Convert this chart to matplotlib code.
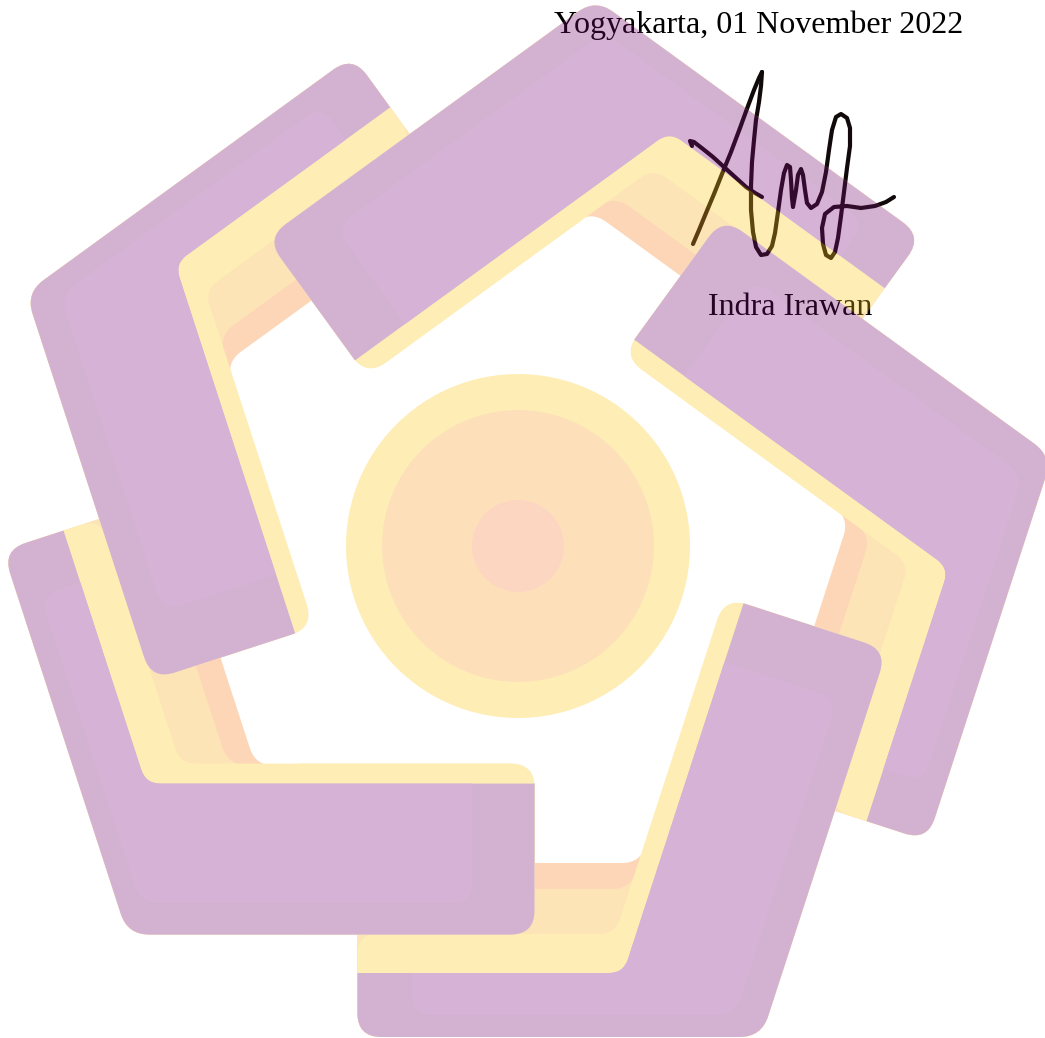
import numpy as np
import matplotlib
matplotlib.use("Agg")
import matplotlib.pyplot as plt
from matplotlib.path import Path
from matplotlib.patches import PathPatch, Circle
from matplotlib.collections import PatchCollection
from matplotlib.colors import to_rgb

# ------------------------------------------------------------------ text
place_date = "Yogyakarta, 01 November 2022"
signer_name = "Indra Irawan"

# ------------------------------------------------------------ signature
sig_a_x = [693, 699, 706, 714, 722, 731, 740, 748, 754, 759, 762]
sig_a_y = [244, 230, 213, 194, 174, 152, 128, 106, 90, 78, 72]
sig_b_x = [762, 761, 759, 756, 754, 752, 751, 751, 753, 756, 761, 767, 772, 775, 778,
           781, 784, 787, 790, 791, 792, 793, 796, 798, 801, 803, 805, 807, 811, 817,
           822, 826, 829, 832, 836, 841, 847, 850, 850, 847, 844, 841, 838, 835, 831,
           826, 823, 822, 825, 834, 847, 861, 875, 886, 894]
sig_b_y = [72, 86, 102, 120, 140, 162, 186, 210, 232, 247, 255, 254, 246, 233, 212,
           190, 173, 165, 167, 180, 198, 207, 190, 175, 169, 175, 190, 203, 208, 204,
           192, 172, 150, 130, 117, 114, 118, 128, 146, 168, 192, 216, 238, 252, 258,
           255, 244, 228, 214, 207, 206, 208, 206, 202, 197]
sig_c_x = [692, 690, 694, 703, 713, 724, 735, 746, 755, 762]
sig_c_y = [146, 141, 142, 149, 157, 167, 177, 187, 193, 197]

# -------------------------------------- watermark colours (as seen on paper)
WATERMARK_ALPHA = 0.32
seen_purple = "#D3B2D1"
seen_purple_hi = "#D6B2D6"
seen_yellow = "#FEEDB5"
seen_light_orange = "#FDE4B6"
seen_peach = "#FDD6B7"
seen_disc_outer = "#FEEDB5"
seen_disc_mid = "#FDE0B9"
seen_disc_core = "#FCD6C1"

# ------------------------------------------------------------ central disc
disc_center = (518, 546)
disc_radii = [172, 136, 46]
disc_colours = [seen_disc_outer, seen_disc_mid, seen_disc_core]

# ------------------------------------------------------------------- arms
arm_angles_deg = [0, 72, 144, 216, 288]
arm_corner_x = [761.4, 1052.2, 595.5, 25.8, 127.5]
arm_corner_y = [1037.0, 456.7, -1.0, 293.0, 934.6]
leg_len_cw = 404
leg_len_ccw = 407
# layers from back to front: peach, light orange, yellow, purple, purple highlight
layer_colours = [seen_peach, seen_light_orange, seen_yellow, seen_purple, seen_purple_hi]
layer_out_cw = [0, 0, 0, 0, 22]
layer_out_ccw = [0, 0, 0, 0, 32]
layer_w_cw = [174, 148, 103, 64, 64]
layer_w_ccw = [169, 170, 171, 151, 151]
layer_end_cw = [leg_len_cw] * 4 + [leg_len_cw - 55]
layer_end_ccw = [leg_len_ccw] * 4 + [leg_len_ccw - 62]
layer_radii = [[30, 24, 16, 25, 24, 24],
               [30, 24, 16, 25, 24, 24],
               [30, 24, 20, 22, 24, 24],
               [30, 24, 0, 20, 0, 24],
               [26, 20, 0, 20, 0, 20]]

# ---------------------------------------------------------------- helpers
c72, s72 = np.cos(np.radians(72)), np.sin(np.radians(72))
A_DIR = np.array([-1.0, 0.0])
A_N = np.array([0.0, -1.0])
B_DIR = np.array([c72, -s72])
B_N = np.array([-s72, -c72])


def full_colour(seen):
    rgb = np.array(to_rgb(seen))
    return tuple(np.clip(1 - (1 - rgb) / WATERMARK_ALPHA, 0, 1))


def meet(n1, c1, n2, c2):
    return np.linalg.solve(np.array([n1, n2]), np.array([c1, c2], float))


def rounded_path(pts, radii):
    pts = [np.asarray(p, float) for p in pts]
    n = len(pts)
    verts, codes = [], []
    for i in range(n):
        V, P, N = pts[i], pts[i - 1], pts[(i + 1) % n]
        u1 = P - V
        l1 = np.hypot(*u1)
        u1 = u1 / l1
        u2 = N - V
        l2 = np.hypot(*u2)
        u2 = u2 / l2
        ang = np.arccos(np.clip(u1 @ u2, -1, 1))
        r = radii[i]
        d = 0.0 if r <= 0 else min(r / np.tan(ang / 2), 0.45 * l1, 0.45 * l2)
        T1, T2 = V + u1 * d, V + u2 * d
        verts.append(T1)
        codes.append(Path.MOVETO if i == 0 else Path.LINETO)
        verts += [V, T2]
        codes += [Path.CURVE3, Path.CURVE3]
    verts.append(verts[0])
    codes.append(Path.CLOSEPOLY)
    return Path(verts, codes)


def to_page(v, k):
    phi = np.radians(arm_angles_deg[k])
    c, s = np.cos(phi), np.sin(phi)
    x, y = v
    return np.array([arm_corner_x[k] + x * c + y * s,
                     arm_corner_y[k] - x * s + y * c])


def arm_patches(k, s_from=None):
    out = []
    for i in range(len(layer_colours)):
        oa, ob = layer_out_cw[i], layer_out_ccw[i]
        wa, wb = layer_w_cw[i], layer_w_ccw[i]
        ea, eb = layer_end_cw[i], layer_end_ccw[i]
        rad = layer_radii[i]
        v5 = meet(B_N, wb, B_DIR, eb)
        v6 = meet(B_N, ob, B_DIR, eb)
        if s_from is None:
            v1 = meet(A_N, oa, B_N, ob)
            v2 = meet(A_N, oa, A_DIR, ea)
            v3 = meet(A_N, wa, A_DIR, ea)
            v4 = meet(A_N, wa, B_N, wb)
            local = [v1, v2, v3, v4, v5, v6]
            r = rad
        else:
            q1 = meet(B_N, ob, B_DIR, s_from)
            q4 = meet(B_N, wb, B_DIR, s_from)
            local = [q1, v6, v5, q4]
            r = [0, rad[5], rad[4], 0]
        path = rounded_path([to_page(v, k) for v in local], r)
        out.append(PathPatch(path, facecolor=full_colour(layer_colours[i]),
                             edgecolor="none", linewidth=0))
    return out


def watermark_filter(img, dpi):
    out = img.copy()
    out[..., 3] *= WATERMARK_ALPHA
    return out, 0, 0


# ------------------------------------------------------------------ figure
W, H = 1045, 1038
fig = plt.figure(figsize=(W / 100, H / 100), dpi=100)
fig.patch.set_facecolor("white")
ax = fig.add_axes([0, 0, 1, 1])
ax.set_xlim(0, W)
ax.set_ylim(H, 0)
ax.axis("off")

serif = ["Liberation Serif", "DejaVu Serif"]
ax.text(554, 33.5, place_date, fontsize=23, family=serif, color="black",
        ha="left", va="baseline", zorder=2)
ax.text(708, 315, signer_name, fontsize=23, family=serif, color="black",
        ha="left", va="baseline", zorder=2)

for xs, ys in [(sig_a_x, sig_a_y), (sig_b_x, sig_b_y), (sig_c_x, sig_c_y)]:
    ax.plot(xs, ys, color="#120a0a", lw=3.0, solid_capstyle="round",
            solid_joinstyle="round", zorder=2)

patches = []
for r, col in zip(disc_radii, disc_colours):
    patches.append(Circle(disc_center, r, facecolor=full_colour(col),
                          edgecolor="none", linewidth=0))
for k in [4, 3, 2, 1, 0]:
    patches += arm_patches(k)
# the bottom-left arm's horizontal leg lies on top of the bottom arm (pinwheel)
redraw_from = np.ceil(arm_corner_x[4] + 170) - arm_corner_x[4]
patches += arm_patches(4, s_from=redraw_from)

logo = PatchCollection(patches, match_original=True, zorder=5)
logo.set_linewidth(0)
logo.set_agg_filter(watermark_filter)
ax.add_collection(logo)

fig.savefig("out.png", dpi=100, facecolor="white")
